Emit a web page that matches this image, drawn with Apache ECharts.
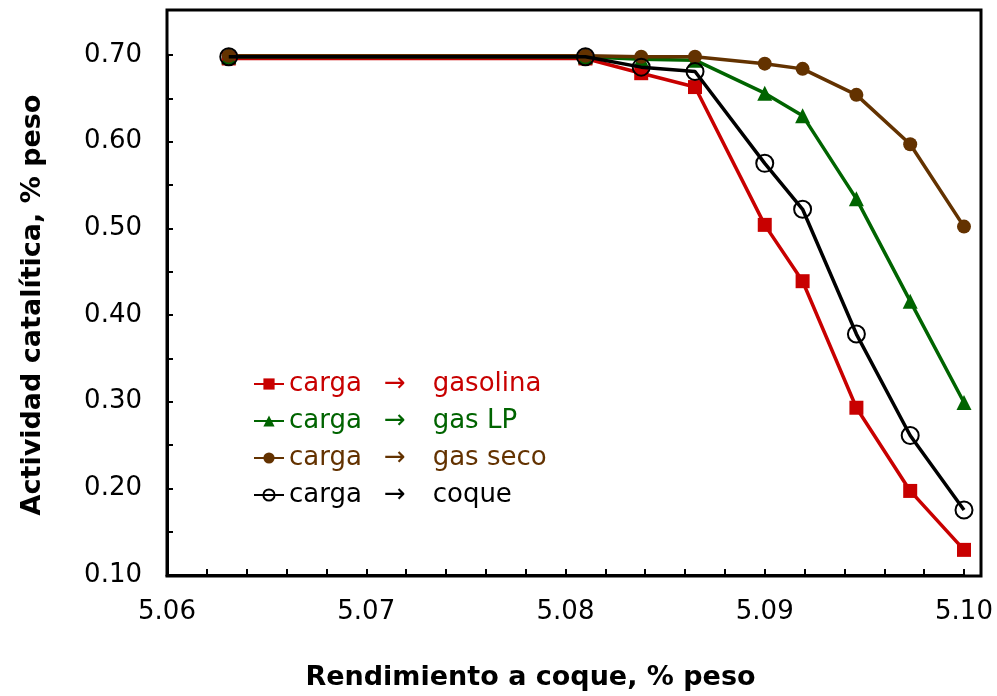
<!DOCTYPE html>
<html>
<head>
<meta charset="utf-8">
<script src="https://cdn.jsdelivr.net/npm/echarts@6/dist/echarts.min.js"></script>
<style>html,body{margin:0;padding:0;background:#fff}#c{width:997px;height:696px}</style>
</head>
<body>
<div id="c"></div>
<script>
const rendimiento = [5.0631, 5.0810, 5.0838, 5.0865, 5.0900, 5.0919, 5.0946, 5.0973, 5.1000];
const gasolina = [0.696, 0.696, 0.679, 0.663, 0.504, 0.439, 0.293, 0.197, 0.129];
const gasLP    = [0.698, 0.698, 0.695, 0.694, 0.656, 0.630, 0.534, 0.416, 0.299];
const gasSeco  = [0.699, 0.699, 0.698, 0.698, 0.690, 0.684, 0.654, 0.597, 0.502];
const coque    = [0.698, 0.698, 0.686, 0.681, 0.575, 0.522, 0.378, 0.261, 0.175];
const seriesNames = ['gasolina', 'gas LP', 'gas seco', 'coque'];
const xTicks = { min: 5.06, max: 5.10, step: 0.01 };
const yTicks = { min: 0.10, max: 0.70, step: 0.10 };

const colors = ['#C80000', '#006400', '#633200', '#000000'];
const FONT = 'DejaVu Sans';
const pairs = arr => arr.map((v, i) => [rendimiento[i], v]);

const chart = echarts.init(document.getElementById('c'), null, { renderer: 'canvas' });

const rich = {};
colors.forEach((c, i) => {
  rich['t' + i] = { color: c, fontFamily: FONT, fontSize: 26, lineHeight: 26 };
  rich['a' + i] = { color: c, fontFamily: FONT, fontSize: 26, lineHeight: 26, padding: [0, 27, 0, 22] };
});

const common = (i) => ({
  type: 'line',
  name: seriesNames[i],
  clip: false,
  lineStyle: { color: colors[i], width: 3.5 },
  z: 2 + i
});

const option = {
  animation: false,
  backgroundColor: '#fff',
  grid: { left: 167, right: 33, top: 55, bottom: 120 },
  xAxis: {
    type: 'value', min: xTicks.min, max: xTicks.max, interval: xTicks.step,
    axisLine: { show: true, onZero: false, lineStyle: { color: '#000', width: 3 } },
    axisTick: { show: true, inside: true, length: 6, lineStyle: { color: '#000', width: 2 } },
    minorTick: { show: true, splitNumber: 5, length: 6, lineStyle: { color: '#000', width: 2 } },
    splitLine: { show: false },
    axisLabel: { margin: 24, color: '#000', fontFamily: FONT, fontSize: 26, formatter: v => v.toFixed(2) },
    name: 'Rendimiento a coque, % peso', nameLocation: 'middle', nameGap: 89,
    nameTextStyle: { color: '#000', fontFamily: FONT, fontWeight: 'bold', fontSize: 27, padding: [0, 70, 0, 0] }
  },
  yAxis: {
    type: 'value', min: yTicks.min, max: yTicks.max, interval: yTicks.step,
    axisLine: { show: true, onZero: false, lineStyle: { color: '#000', width: 3 } },
    axisTick: { show: true, inside: true, length: 6, lineStyle: { color: '#000', width: 2 } },
    minorTick: { show: true, splitNumber: 2, length: 6, lineStyle: { color: '#000', width: 2 } },
    splitLine: { show: false },
    axisLabel: { margin: 25, color: '#000', fontFamily: FONT, fontSize: 26, formatter: v => v.toFixed(2) },
    name: 'Actividad catalítica, % peso', nameLocation: 'middle', nameGap: 121, nameRotate: 90,
    nameTextStyle: { color: '#000', fontFamily: FONT, fontWeight: 'bold', fontSize: 27, padding: [0, 0, 0, 20] }
  },
  legend: {
    orient: 'vertical', left: 248, top: 366, itemGap: 11, itemWidth: 30, itemHeight: 14,
    data: seriesNames.map(n => ({ name: n })),
    formatter: name => {
      const i = seriesNames.indexOf(name);
      return `{t${i}|carga}{a${i}|→}{t${i}|${name}}`;
    },
    textStyle: { fontFamily: FONT, fontSize: 26, rich: rich }
  },
  series: [
    Object.assign(common(0), { data: pairs(gasolina), symbol: 'rect', symbolSize: 14, itemStyle: { color: colors[0] } }),
    Object.assign(common(1), { data: pairs(gasLP), symbol: 'triangle', symbolSize: 15, itemStyle: { color: colors[1] } }),
    Object.assign(common(2), { data: pairs(gasSeco), symbol: 'circle', symbolSize: 14, itemStyle: { color: colors[2] } }),
    Object.assign(common(3), { data: pairs(coque), symbol: 'circle', symbolSize: 17,
      itemStyle: { color: 'rgba(0,0,0,0)', borderColor: '#000', borderWidth: 2 } })
  ],
  graphic: [{
    type: 'rect', silent: true, z: 10,
    shape: { x: 167, y: 10, width: 814, height: 566 },
    style: { fill: null, stroke: '#000', lineWidth: 3 }
  }]
};
chart.setOption(option);
</script>
</body>
</html>
